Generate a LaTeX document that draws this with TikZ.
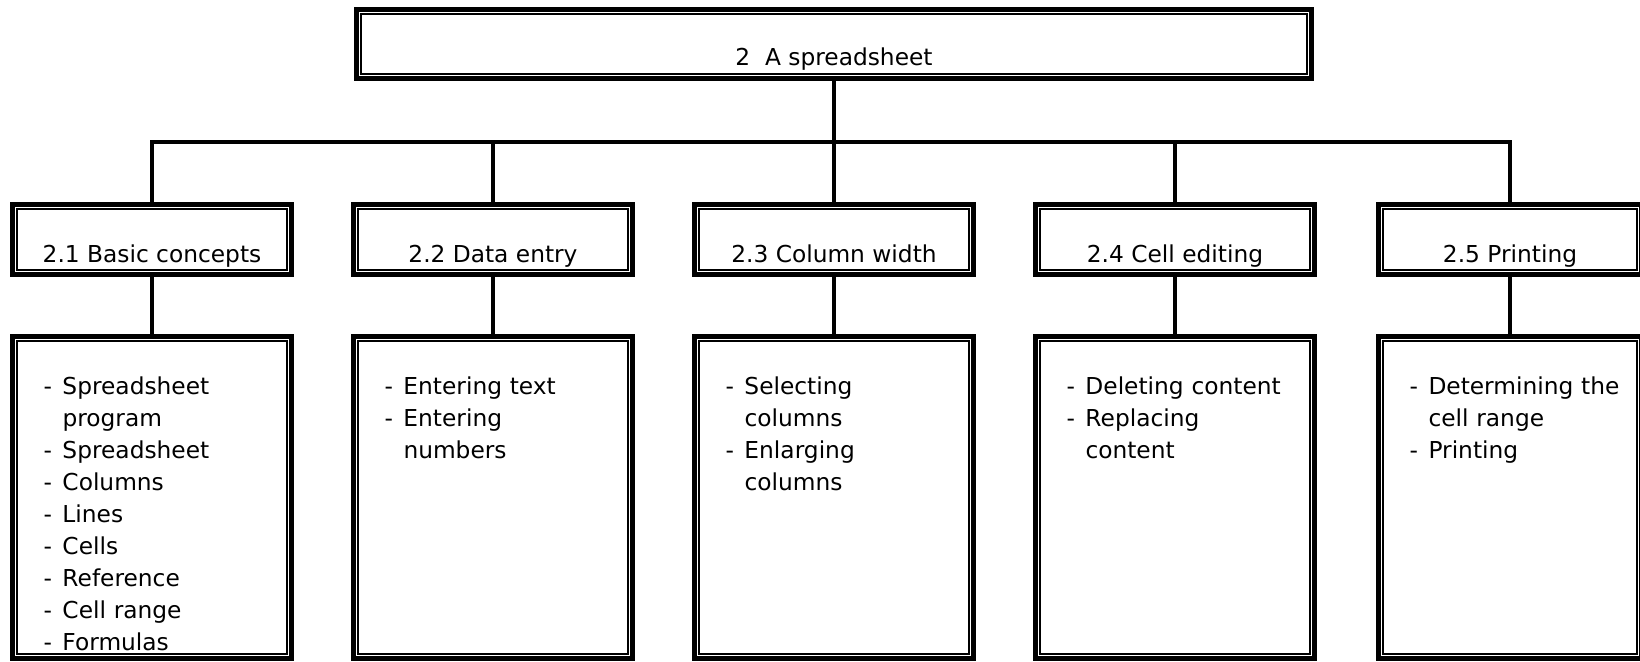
\documentclass[tikz,border=0pt]{standalone}
\usepackage{fontspec}
\setmainfont{DejaVu Sans}

\newcommand{\dashlist}[1]{\begin{tabular}[t]{@{\hspace{15.5pt}}l@{\hspace{5.3pt}}l@{}}#1\end{tabular}}

\begin{document}
\begin{tikzpicture}[x=0.5pt,y=-0.5pt,
  box/.style={draw,line width=2.5pt,outer sep=0pt,inner sep=0pt,font=\fontsize{11.65}{16}\selectfont},
  innerline/.style={line width=1pt},
  topic/.style={box,minimum width=139.5pt,text height=28.75pt,text depth=6.25pt},
  items/.style={box,text width=139.5pt,align=left,text height=28.75pt,text depth=132.25pt},
  edge from parent/.style={draw,line width=2pt},
  level 1/.style={sibling distance=170.5pt,level distance=97.75pt,
    edge from parent path={(\tikzparentnode.south) -- ++(0,63.5) -| (\tikzchildnode.north)}},
  level 2/.style={level distance=129pt,
    edge from parent path={(\tikzparentnode.south) -- (\tikzchildnode.north)}}]

  \useasboundingbox (0,0) rectangle (1640,661);

  \node [box,minimum width=477.5pt,text height=27.75pt,text depth=6.75pt] (sheet) at (834,44) {2\ \ A spreadsheet}
    child {node [topic] (basics) {2.1 Basic concepts}
      child {node [items] (basicsitems) {\dashlist{- & Spreadsheet\\ & program\\ - & Spreadsheet\\ - & Columns\\ - & Lines\\ - & Cells\\ - & Reference\\ - & Cell range\\ - & Formulas}}}}
    child {node [topic] (entry) {2.2 Data entry}
      child {node [items] (entryitems) {\dashlist{- & Entering text\\ - & Entering\\ & numbers}}}}
    child {node [topic] (width) {2.3 Column width}
      child {node [items] (widthitems) {\dashlist{- & Selecting\\ & columns\\ - & Enlarging\\ & columns}}}}
    child {node [topic] (editing) {2.4 Cell editing}
      child {node [items] (editingitems) {\dashlist{- & Deleting content\\ - & Replacing\\ & content}}}}
    child [xshift=-3pt] {node [topic,minimum width=131.5pt] (printing) {2.5 Printing}
      child {node [items,text width=131.5pt] (printingitems) {\dashlist{- & Determining the\\ & cell range\\ - & Printing}}}};

  \foreach \n in {sheet,basics,basicsitems,entry,entryitems,width,widthitems,editing,editingitems,printing,printingitems}
    \draw [innerline] ([shift={(4.5,4.5)}]\n.north west) rectangle ([shift={(-4.5,-4.5)}]\n.south east);
\end{tikzpicture}
\end{document}
